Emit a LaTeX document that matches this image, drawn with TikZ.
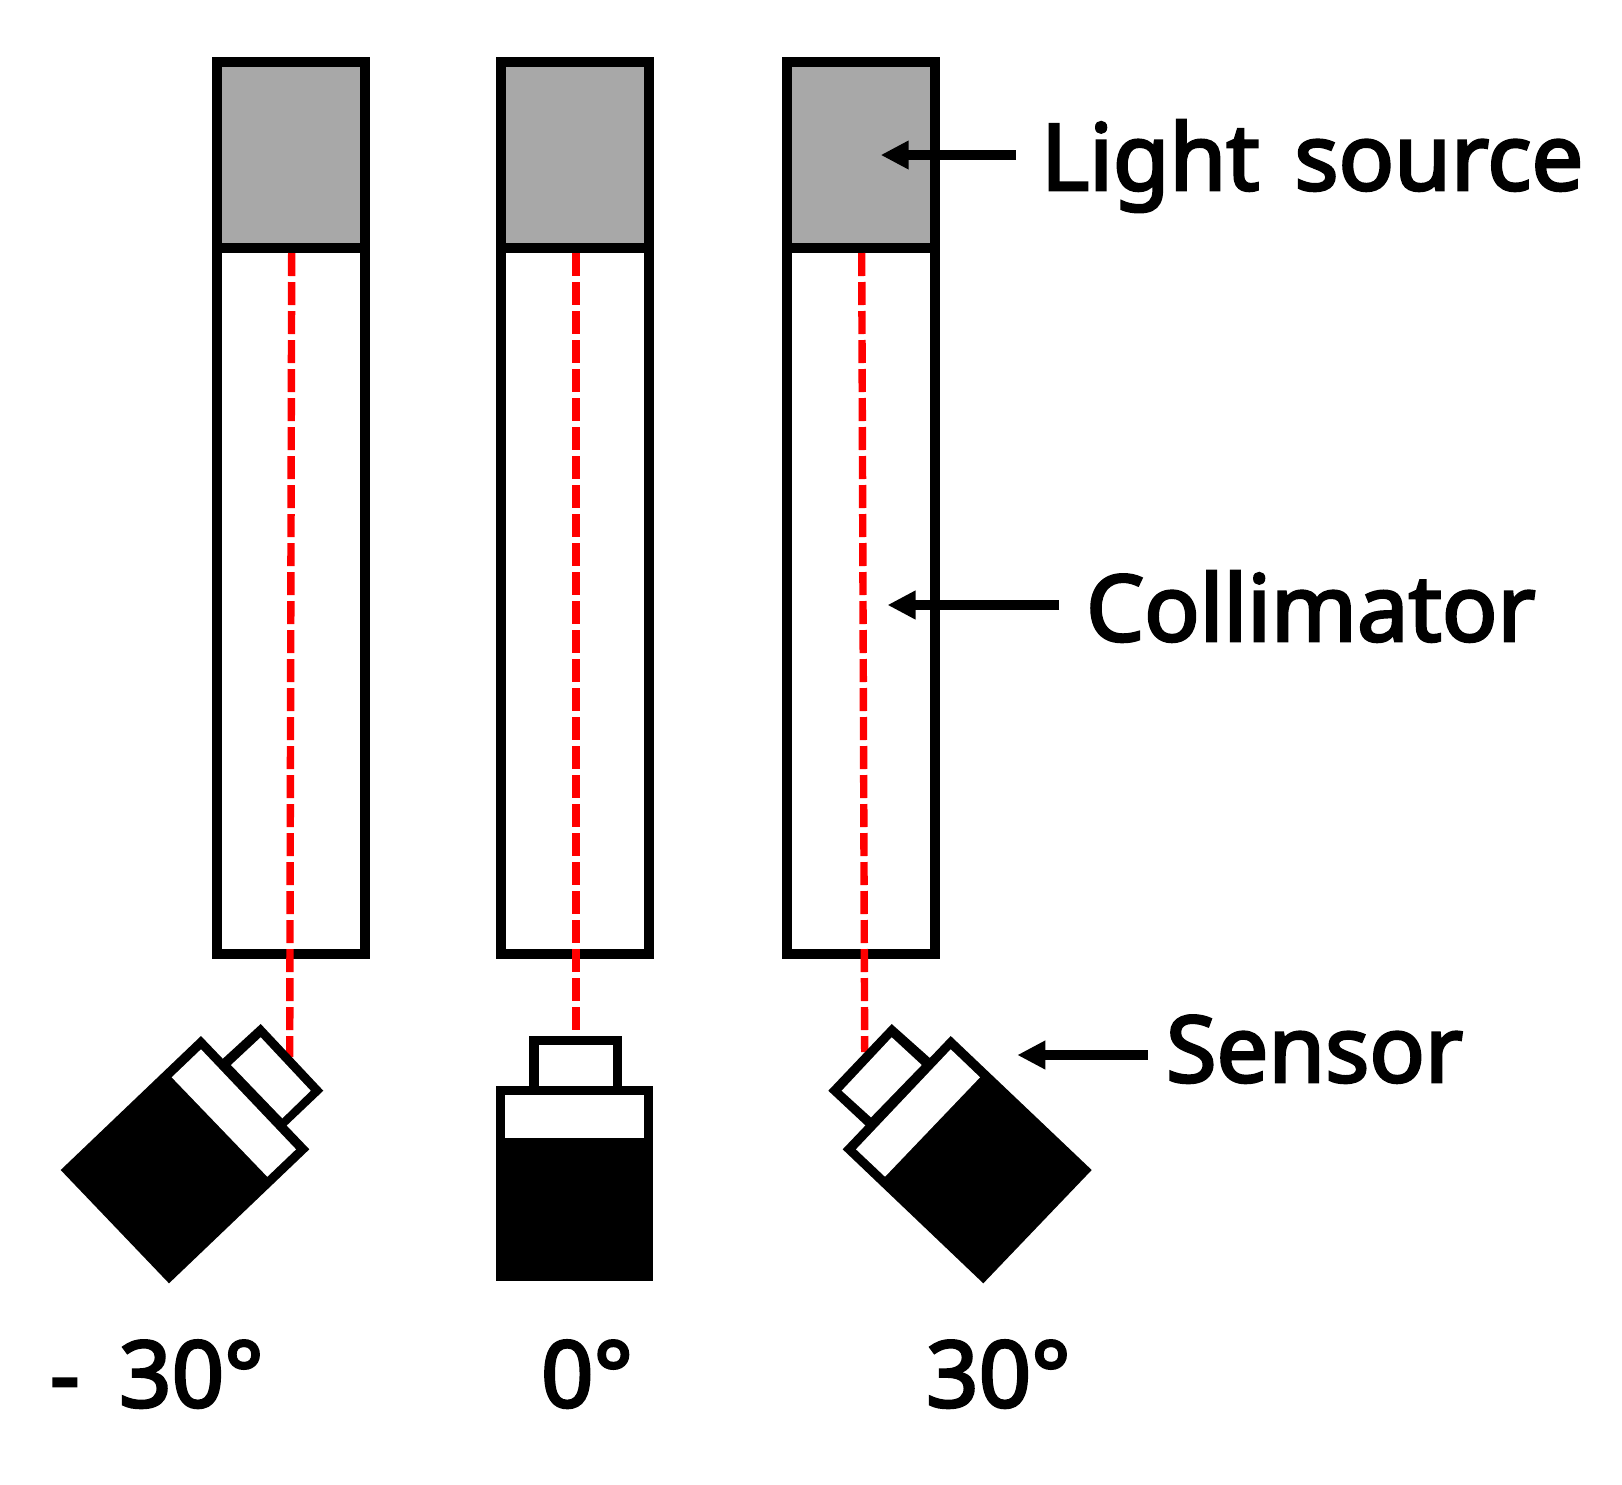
\documentclass[tikz,border=0pt]{standalone}
\usepackage{fontspec}
\newfontfamily\lab[RawFeature={embolden=3}]{Noto Sans}
\usetikzlibrary{arrows.meta}
\definecolor{srcgray}{HTML}{A8A8A8}
\tikzset{
  wall/.style={draw=black,line width=5pt,inner sep=0pt,outer sep=0pt,minimum width=74pt},
  srcbox/.style={wall,fill=srcgray,minimum height=93pt},
  colbox/.style={wall,fill=white,minimum height=353pt},
  beam/.style={draw=red,line width=3.7pt,dash pattern=on 11.5pt off 3pt},
  callout/.style={draw=black,line width=4.7pt,-{Triangle[length=14pt,width=13.5pt]}},
  lbl/.style={inner sep=0pt,outer sep=0pt,anchor=base west,font=\lab\fontsize{46}{50}\selectfont},
  ink/.style={fill=black,draw=none},
  blank/.style={fill=white,draw=none}
}
\begin{document}
\begin{tikzpicture}[x=0.5pt,y=-0.5pt]
\useasboundingbox (0,0) rectangle (1622,1484);
\fill[white] (0,0) rectangle (1622,1484);
% collimators and light sources
\foreach \n/\cx in {L/290.5,M/574.5,R/861}{
  \node[colbox] (col\n) at (\cx,601) {};
  \node[srcbox] (src\n) at (\cx,155) {};
}
% beams
\coordinate (beamLa) at (291.7,253);
\coordinate (beamLb) at (289.7,1057);
\coordinate (beamMa) at (576,253);
\coordinate (beamMb) at (576,1036);
\coordinate (beamRa) at (861.7,253);
\coordinate (beamRb) at (864.7,1052);
\draw[beam] (beamLa) -- (beamLb);
\draw[beam] (beamMa) -- (beamMb);
\draw[beam] (beamRa) -- (beamRb);
% sensor left
\fill[ink] (260.7,1024) -- (323.3,1090.7) -- (283.2,1128.8) -- (217.4,1063.7) -- cycle;
\fill[blank] (260.7,1037.3) -- (310.7,1090.7) -- (282.3,1118.3) -- (231,1065) -- cycle;
\fill[ink] (201,1036) -- (309.3,1149.3) -- (169,1283.3) -- (60.7,1170) -- cycle;
\fill[blank] (201,1049.3) -- (296,1149.3) -- (267.3,1176.7) -- (171.7,1077.3) -- cycle;
% sensor middle
\fill[ink] (529.3,1035.7) rectangle (622.3,1090);
\fill[blank] (539,1045) rectangle (613.3,1090);
\fill[ink] (496,1085.7) rectangle (653,1281);
\fill[blank] (505.3,1095) rectangle (644,1138.3);
% sensor right
\fill[ink] (891.7,1024) -- (935,1062.6) -- (869.1,1128.8) -- (828.3,1090.7) -- cycle;
\fill[blank] (891.7,1037.3) -- (921.7,1065) -- (871,1117.3) -- (841.7,1090.7) -- cycle;
\fill[ink] (950.7,1036) -- (1091.7,1170) -- (983.3,1283.3) -- (842.7,1149.3) -- cycle;
\fill[blank] (950.7,1049.3) -- (980,1077.3) -- (885,1176.7) -- (856,1149.3) -- cycle;
% labels
\node[lbl] (tLight) at (1041,190) {Light\hspace{0.12em} source};
\node[lbl] (tColl) at (1086,641) {Collimator};
\node[lbl] (tSens) at (1166,1082) {Sensor};
\node[lbl] (tMinus) at (50,1407) {-};
\node[lbl] (tA) at (119,1407) {30°};
\node[lbl] (tB) at (541,1407) {0°};
\node[lbl] (tC) at (926,1407) {30°};
% callouts
\coordinate (aLs) at (1016,155);
\coordinate (aLe) at (880.7,155);
\coordinate (aCs) at (1059,605);
\coordinate (aCe) at (887.5,605);
\coordinate (aSs) at (1147.7,1055);
\coordinate (aSe) at (1017.3,1055);
\draw[callout] (aLs) -- (aLe);
\draw[callout] (aCs) -- (aCe);
\draw[callout] (aSs) -- (aSe);
\end{tikzpicture}
\end{document}
